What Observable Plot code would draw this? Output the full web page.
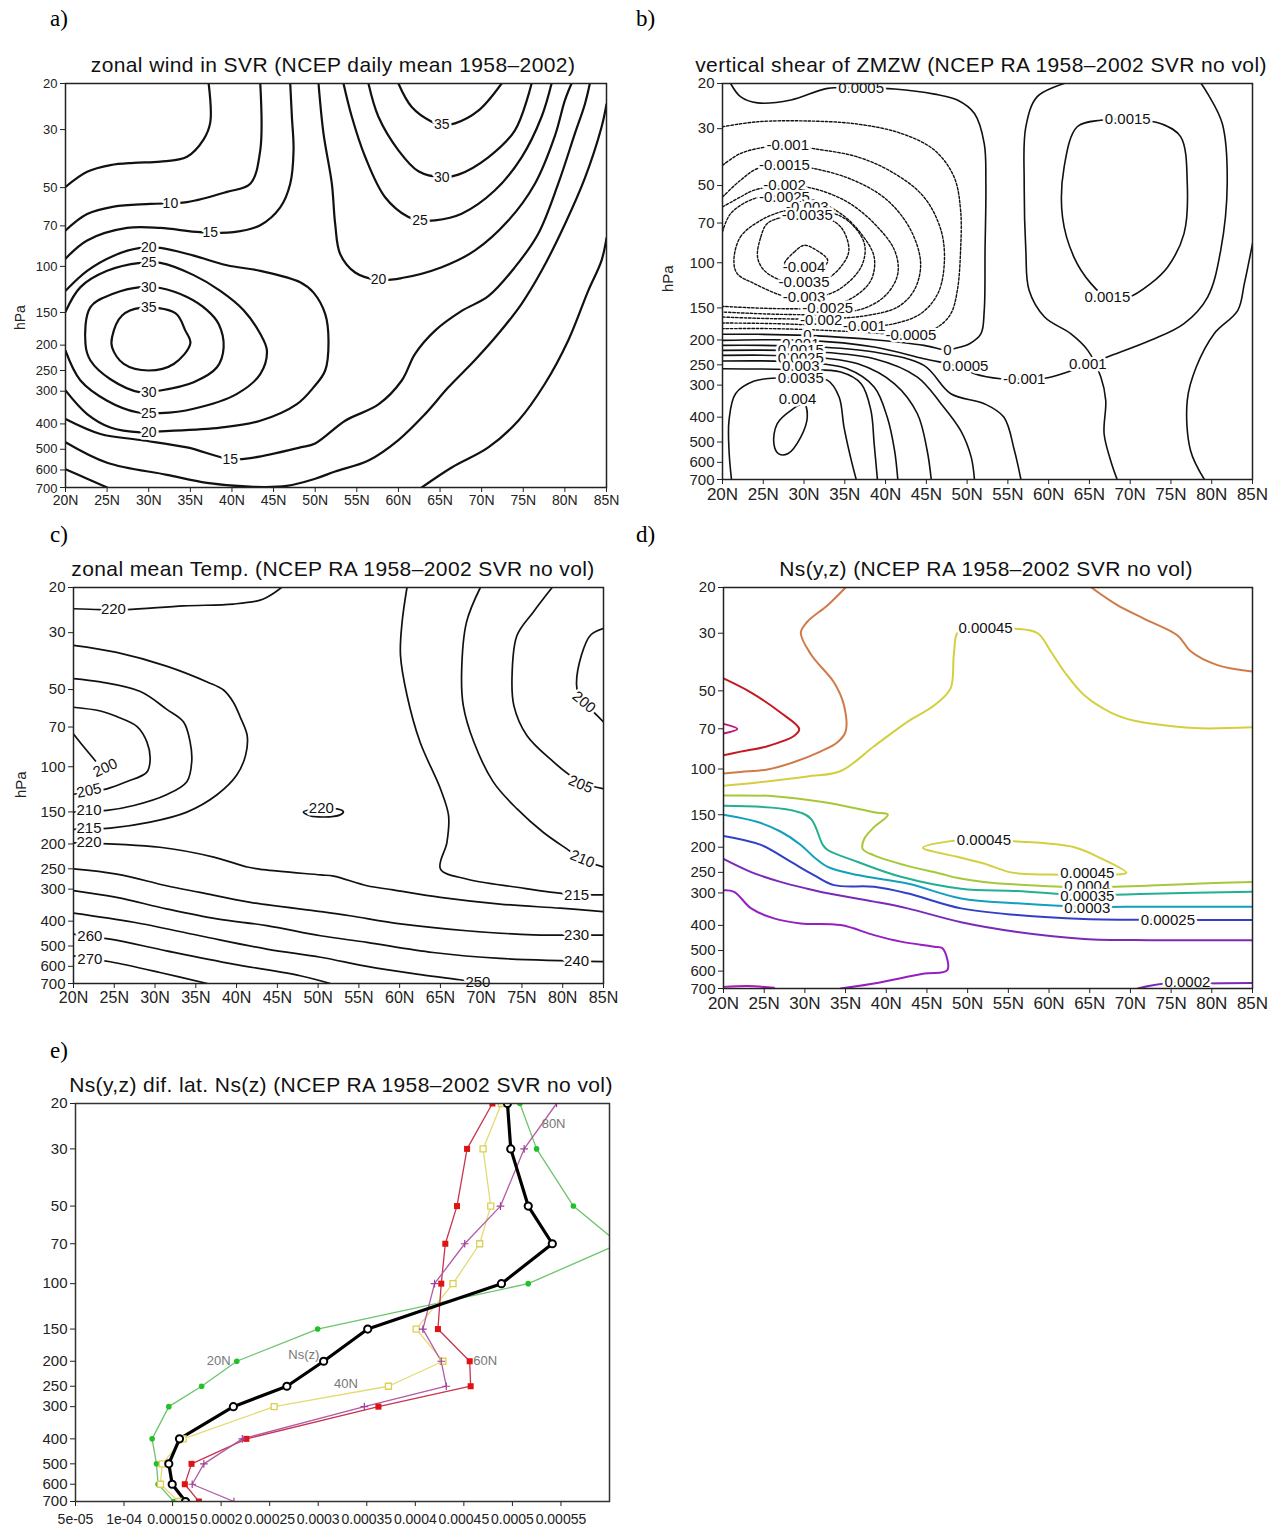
<!DOCTYPE html>
<html><head><meta charset="utf-8">
<script src="https://cdn.jsdelivr.net/npm/d3@7"></script>
<script src="https://cdn.jsdelivr.net/npm/@observablehq/plot@0.6"></script>
<style>
body{margin:0;background:#fff;}
#root{position:relative;width:1278px;height:1527px;background:#fff;font-family:"Liberation Sans",Arial,sans-serif;overflow:hidden;}
.tag{font-family:"Liberation Serif","Times New Roman",serif;font-size:23px;color:#000;}
.title{font-size:21px;color:#111;white-space:nowrap;transform:translateX(-50%);letter-spacing:0.4px;}
.hpa{color:#222;transform:rotate(-90deg);transform-origin:left top;}
</style></head><body><div id="root"></div>
<script>
// ---------- shared ticks ----------
const latTicks = [20,25,30,35,40,45,50,55,60,65,70,75,80,85];
const pTicks = [20,30,50,70,100,150,200,250,300,400,500,600,700];

// ---------- panel a: zonal wind (lat, hPa) ----------
const a_5_top = [[20,49.7],[22.6,43.5],[25.4,41],[28.2,40.2],[31.4,39.8],[34.6,38.1],[36.6,32.7],[37.4,28.1],[37.2,20]];
const a_10_top = [[20,72.9],[22.6,63.1],[25.8,59.1],[30.2,57.7],[34.6,56.8],[39.4,51.9],[42.2,48.3],[43.4,36],[43.4,20]];
const a_15_top = [[20,93.5],[22.6,79.6],[27.4,71.3],[31.4,71.3],[36.2,74],[40.2,74],[43.4,69.6],[45.8,59.5],[47,48.3],[47.4,36],[47.2,26.8],[47,20]];
const a_20_jet = [[20,124],[22.6,104],[25.8,91],[29,85],[31.4,85],[35.4,91],[39.4,99],[43.4,104],[48.2,115],[49.8,126],[51.2,152],[51.6,192],[51.2,250],[49.8,290],[47.8,336],[43.4,389],[38.6,413],[31.4,427],[29,431],[25.4,413],[22.6,367],[20,298]];
const a_25_jet = [[20,149],[21.8,120],[25,104],[29,97],[31.4,97],[35.4,108],[38.6,124],[41.4,147],[43.4,181],[44.2,210],[43.4,258],[40.6,307],[35.4,350],[31.4,364],[28.6,361],[25,326],[21.8,273],[20,210]];
const a_30_jet = [[22.4,198],[23,143],[25.8,127],[29,120],[31.4,121],[34.6,131],[37,147],[38.4,166],[39,204],[38.2,243],[35.4,277],[31.4,298],[29,303],[25.4,270],[23,229]];
const a_35_jet = [[25.6,186],[26.8,154],[29,144],[33.2,151],[34.4,176],[35,197],[33,236],[30,250],[27,236],[25.6,204]];
const a_15_low = [[20,383],[24.2,437],[29,461],[34.6,492],[39.8,545],[42.6,538],[48.2,492],[50,475],[53.6,389],[57.6,337],[60.4,273],[62,216],[64.4,176],[67.6,148],[70.8,130],[74,100.7],[76.8,75],[79.2,48.3],[81.2,31.1],[82.4,24],[83,20]];
const a_10_low = [[20,470],[25,563],[32.2,626],[37,672],[42.6,696],[46.6,690],[50,648],[52.4,608],[56.4,552],[60,461],[63.2,367],[66,290],[69.2,228],[72,181],[74.8,139],[77.2,104],[80,69],[82.4,46],[84.4,29.4],[85,24]];
const a_5_low1 = [[20,596],[22.6,648],[25,700]];
const a_5_low2 = [[62.8,700],[66.4,587],[70.8,492],[74.4,389],[77.6,281],[80.4,192],[82.8,124],[84.4,95],[85,78]];
const a_20_polar = [[50.4,20],[51,31.1],[52,48.3],[52.4,68.8],[53,89.7],[54.8,105.5],[57.6,112.6],[60.4,110.8],[65.2,100.7],[69.2,86.9],[73.2,66.8],[76.4,48.3],[78.8,31.7],[80,23.2],[80.8,20]];
const a_25_polar = [[53.4,20],[54.4,26.8],[56,38.1],[58.4,54.4],[61.2,64.8],[62.6,66.7],[64.4,66.7],[67.6,62.9],[71.6,51.2],[74.8,38.3],[77.2,26.8],[78.4,20]];
const a_30_polar = [[56.4,20],[57.6,26.8],[60,36],[62.4,43.3],[65.2,45.6],[67.2,44.6],[70.8,38.3],[74,30.2],[76,20]];
const a_35_polar = [[60,20],[61.6,24.6],[64,28],[65.2,28.8],[66.8,28.4],[69.6,25.4],[72.4,20]];
const a_labels = [["10",32.6,57.5],["15",37.4,74],["20",30,85],["25",30,97],["30",30,120],["35",30,144],["30",30,303],["25",30,364],["20",30,431],["15",39.8,545],["35",65.2,28.8],["30",65.2,45.6],["25",62.6,66.7],["20",57.6,112.6]];

// ---------- panel b: vertical shear (lat, hPa) ----------
const b_S1 = [[21.0,20],[22.2,22.5],[24.3,23.8],[28.4,23.2],[32.9,20.9],[37.0,20.8],[41.1,21.0],[46.0,22.0],[48.8,23.2],[50.9,26.2],[52.1,34.3],[52.3,49.1],[52.2,89.4],[52.1,153.3],[51.7,189.0],[50.3,206.8],[48.4,216.3],[47.6,219.6],[44.7,209.9],[38.6,199.5],[32.9,193.6],[30.4,191.9],[24.3,190.1],[20,190.1]];
const b_N1 = [[20,29.5],[24.3,28.2],[30.4,28.0],[36.6,28.8],[41.9,31.3],[46.0,36.4],[48.4,46.3],[49.2,62.4],[49.2,89.4],[48.8,128.1],[48.0,158.0],[46.4,178.0],[44.3,187.8],[43.1,191.9],[38.6,187.8],[32.5,183.4],[26.3,180.7],[20,180.7]];
const b_N2 = [[20,41.7],[22.2,37.5],[25.5,35.3],[28.0,34.8],[31.2,35.9],[36.6,38.7],[41.1,44.9],[44.7,55.4],[46.8,74.7],[47.2,100.8],[46.4,132.0],[44.3,158.0],[41.1,172.7],[37.8,176.9],[32.5,175.4],[26.3,172.7],[20,171.7]];
const b_N3 = [[20,55.4],[22.2,47.7],[24.3,42.9],[27.6,41.7],[31.2,42.9],[36.1,47.7],[40.2,57.0],[43.1,74.7],[44.3,100.8],[43.5,128.1],[41.5,148.7],[37.8,160.4],[32.9,165.2],[26.3,165.2],[20,162.8]];
const b_N4 = [[20,60.6],[22.2,55.4],[23.9,52.1],[27.6,49.9],[31.2,51.4],[35.3,57.9],[38.6,70.3],[41.1,89.4],[41.5,110.2],[40.2,132.0],[37.8,148.7],[33.7,158.0],[27.2,158.9],[20,155.6]];
const b_N5 = [[20,75.8],[21.0,64.3],[23.9,56.2],[27.6,55.0],[31.2,57.0],[34.5,64.3],[37.0,77.0],[38.6,95.0],[38.2,117.1],[36.1,136.0],[32.9,148.7],[27.2,151.0],[20,147.9]];
const b_N6 = [[21.4,97.8],[22.2,79.3],[24.7,68.3],[28.0,62.4],[32.1,62.4],[35.3,68.3],[37.4,84.2],[37.0,103.8],[34.1,128.1],[31.2,136.0],[28.0,136.0],[23.9,120.6],[21.8,110.2]];
const b_N7 = [[24.3,95.0],[24.7,79.3],[25.5,70.3],[28.0,65.9],[32.1,65.9],[34.5,72.5],[35.5,89.4],[34.5,103.8],[32.5,117.1],[30.0,120.6],[27.2,117.1],[25.1,107.0]];
const b_N8 = [[27.6,100.8],[28.8,90.8],[30.0,85.5],[31.2,88.1],[32.9,97.8],[32.3,103.8],[30.0,105.4],[28.0,103.8]];
const b_P1 = [[20,200.7],[30.4,200.7],[38.6,213.1],[44.7,236.6],[49.2,255.1],[50.9,270.9],[54.1,283.3],[57.0,283.3],[59.9,280.7],[63.5,258.9],[67.2,233.1],[72.5,200.7],[76.6,172.7],[79.5,136.0],[81.1,89.4],[81.9,49.1],[81.3,28.7],[79.5,21.9],[78.7,20]];
const b_P2 = [[20,209.9],[30.4,211.8],[38.6,222.9],[44.7,251.3],[48.0,324.0],[52.1,354.4],[54.5,399.7],[55.8,539.4],[56.6,700]];
const b_P3 = [[20,219.6],[29.6,220.9],[38.6,236.6],[43.9,279.0],[46.8,354.4],[49.2,450.6],[50.5,572.5],[50.9,700]];
const b_P4 = [[20,229.7],[29.6,231.7],[36.6,247.6],[41.1,296.4],[43.9,387.9],[45.1,539.4],[45.6,700]];
const b_P5 = [[20,241.7],[29.6,243.9],[35.3,258.9],[38.6,305.2],[40.2,399.7],[41.1,539.4],[41.5,700]];
const b_P6 = [[20,258.9],[29.6,261.3],[34.5,266.8],[37.0,296.4],[38.2,376.4],[38.6,508.1],[39.0,700]];
const b_P7 = [[21.1,700],[20.8,539.4],[20.8,411.8],[21.6,324.0],[23.9,289.3],[27.2,280.7],[29.6,280.7],[32.9,287.6],[34.3,333.8],[34.9,437.3],[35.7,572.5],[36.4,700]];
const b_P8 = [[26.3,508.1],[26.7,424.4],[28.4,376.4],[30.0,354.4],[30.4,399.7],[29.6,478.4],[28.0,555.9],[26.9,555.9]];
const b_R1 = [[85,84.2],[84.0,120.6],[83.2,153.3],[80.3,189.0],[78.1,255.1],[77.0,343.9],[77.4,539.4],[79.1,700]];
const b_R2 = [[61.9,20],[58.6,22.5],[57.2,29.5],[57.0,49.1],[57.2,89.4],[57.6,128.1],[59.5,162.8],[62.7,189.0],[64.8,219.6],[66.4,279.0],[67.0,343.9],[66.8,464.4],[67.6,589.9],[68.4,700]];
const b_R3 = [[63.5,29.5],[66.4,27.8],[69.7,27.6],[73.8,28.7],[76.2,32.3],[77.0,49.1],[76.6,77.0],[74.6,103.8],[72.5,120.6],[69.7,136.8],[67.2,136.8],[65.2,120.6],[63.1,95.0],[61.7,66.3],[61.9,42.3]];
const b_labels = [["0.0005",37.0,20.9],["-0.001",28.0,34.8],["-0.0015",27.6,41.7],["-0.002",27.6,49.9],["-0.0025",27.6,55.4],["-0.003",30.4,60.6],["-0.0035",30.4,65.4],["-0.004",30.0,103.8],["-0.0035",30.0,118.8],["-0.003",30.0,136.0],["-0.0025",32.9,151.0],["-0.002",32.1,166.9],["-0.001",37.4,176.9],["-0.0005",43.1,191.9],["0",30.4,191.9],["0",47.6,219.6],["0.0005",49.8,253.8],["0.001",29.6,206.8],["0.0015",29.6,219.6],["0.0025",29.6,236.6],["0.003",29.6,253.8],["0.0035",29.6,280.7],["0.004",29.2,339],["0.0015",69.7,27.6],["0.0015",67.2,136.8],["-0.001",57.0,283.3],["0.001",64.8,247.6]];

// ---------- panel c: temperature (lat, hPa) ----------
const c_220_top = [[20,24.2],[23.3,24.4],[26.5,24.4],[33.5,23.6],[39.6,23.2],[42.9,22.4],[44.5,21.1],[45.5,20]];
const c_200 = [[20,74.5],[21.2,83.2],[22.7,94.9]];
const c_205 = [[20,58.6],[23.3,60.6],[25.3,63.7],[27.8,69.7],[29,80],[29.4,93.3],[29,104.9],[26.5,114.4],[24.1,121.9],[20,128]];
const c_210 = [[20,45.3],[23.3,46.7],[28.2,50.9],[31.4,59.6],[33.5,66.9],[34.3,80],[34.5,95.4],[33.9,114.4],[31.4,128.6],[27.4,141.6],[24.1,148],[20,150.3]];
const c_215 = [[20,33.6],[25.3,35.8],[31.4,40.5],[36.4,46.7],[38.4,50.2],[39.6,56],[40.4,63.5],[41.3,75.6],[41.1,90.3],[40,108],[37.6,128.6],[33.9,150.3],[29.4,164.5],[24.5,173.4],[20,175.5]];
const c_220_low = [[20,198],[30.6,206],[37.2,225],[41.3,246],[43.3,252],[50.3,264],[51.9,267],[56,291],[59.2,302],[65,323],[72.3,343],[79.7,356],[85,367]];
const c_230 = [[20,250],[25.3,262],[31.4,291],[35.5,309],[41.7,338],[50.3,367],[53.9,381],[60.1,410],[68.2,436],[76.4,452],[85,453]];
const c_240 = [[20,304],[25.3,323],[31.4,358],[37.6,392],[43.7,416],[50.3,456],[56,484],[64.1,530],[72.3,559],[85,575]];
const c_250 = [[20,372],[27.4,404],[35.5,456],[43.7,514],[50.3,553],[56,600],[62.1,643],[67.4,677],[69.9,700]];
const c_260 = [[20,449],[24.5,470],[31.4,522],[39.6,588],[47.8,653],[51.5,700]];
const c_270 = [[20,546],[24.5,576],[30.6,634],[36.4,700]];
const c_215_polar = [[60.9,20],[60.3,27.3],[60.1,36.7],[60.9,52.6],[62.5,80.1],[65,121.9],[66,155],[65.8,197],[65,250],[68.2,274],[74.4,295],[80.5,313],[85,316]];
const c_210_polar = [[69.9,20],[68.2,27.3],[67.6,42.7],[67.8,57.6],[69.1,80.1],[71.5,114.8],[74.4,146],[77.6,180],[80.5,209],[82.5,230],[85,246]];
const c_205_polar = [[78.7,20],[76.4,24.9],[74.4,30.7],[73.8,42.7],[74,57.6],[75.6,75.5],[78.9,95.9],[80.9,108],[82.5,116],[85,121.9]];
const c_200_polar = [[85,28.9],[83.4,30.7],[82.3,36.7],[81.7,48.1],[82.2,55],[83.8,61.2],[85,66.9]];
const c_220_loop = [[48.2,150],[49.0,155],[50.7,157],[52.7,154],[53.1,150],[52.3,146]];
const c_labels = [["220",24.9,24.4,0],["200",23.9,101,-25],["205",21.9,124,-12],["210",21.9,148,0],["215",21.9,173,0],["220",21.9,196,0],["260",22,458,0],["270",22,562,0],["220",50.4,145,0],["200",82.6,56,40],["205",82.2,117,22],["210",82.4,229,22],["215",81.7,316,0],["230",81.7,453,0],["240",81.7,573,0],["250",69.6,690,0]];

// ---------- panel d: Ns(y,z) (lat, hPa) with colours ----------
const d_0006 = [[20,67.0],[21.7,70.1],[20,73.0]];
const d_00055 = [[20,44.8],[23.4,50.8],[27,60.6],[29.3,70.1],[28.7,74.5],[25.4,81.7],[22.1,85.7],[20,88.5]];
const d_0005a = [[35,20],[32.8,23.4],[30.3,27.1],[29.5,29.9],[30.8,36.4],[33.6,46.5],[34.8,56.8],[35,71.8],[34,78.9],[31.9,85.7],[28.6,94.2],[25.4,100.4],[22.1,102.6],[20,104.1]];
const d_0005b = [[65.2,20],[68.4,23.4],[71.7,26.4],[75.8,30.6],[77.4,35.2],[80.7,39.8],[85,42.1]];
const d_00045a = [[20,115.9],[24.2,112.6],[30.3,106.8],[34.4,101.8],[38.5,81.7],[42.6,65.8],[45.9,56.8],[47.9,48.9],[48.3,36.4],[48.8,29.7],[50.5,28.8],[55.7,28.8],[58.6,30.0],[60.2,35.2],[61.9,42.3],[64.3,51.9],[67.6,60.6],[70.5,65.2],[74.6,68.1],[78.7,69.7],[85,69.1]];
const d_00045b = [[44.5,201],[48.8,188],[52,188],[56.1,190],[63.1,200],[66.4,221],[69.5,251],[67.6,255],[60.2,255],[55.3,250],[52,231],[48.8,218]];
const d_0004 = [[20,126.5],[26.2,127.2],[32.4,134.3],[38.5,146.7],[40.2,150.0],[38.5,167.4],[37.3,185.6],[37.1,203],[38.5,215],[42.6,236],[46.7,253],[48.8,263],[52,272],[58.2,281],[64.3,285],[72.5,281],[78.7,276],[85,272]];
const d_00035 = [[20,138.5],[28.3,144],[30.7,155],[32.2,196],[32.8,205],[36.5,228],[41.8,260],[49.2,289],[56.1,295],[64.3,306],[72.5,302],[85,297]];
const d_0003 = [[20,150],[24.2,160],[27,174],[29.5,196],[31.1,218],[32.8,238],[36.5,256],[42.6,276],[49.2,315],[56.1,329],[64.3,339],[72.5,339],[85,339]];
const d_00025 = [[20,181],[24.6,196],[28.3,228],[31.1,256],[33.6,280],[38.5,284],[42.6,301],[49.2,344],[56.1,365],[64.3,378],[74.6,381],[85,381]];
const d_0002 = [[20,222],[23.4,249.5],[27,272],[30.3,289],[32.8,301],[38.5,324],[42.6,344],[49.2,389],[56.1,424],[64.3,451],[72.5,456],[85,456]];
const d_00015 = [[20,293],[21.3,297],[23.4,344],[26.2,376],[29.5,393],[34.4,399],[38.5,436],[41.8,462],[45.9,483],[46.9,490],[47.5,595],[44.7,613],[38.5,670],[34.4,700]];
const d_0001 = [[20,690],[23,684],[26.2,696]];
const d_0002b = [[70.9,700],[74.2,670],[78.7,670],[85,666]];
const d_colors = {c0006:"#c0147e",c00055:"#c41a22",c0005:"#d07a48",c00045:"#d2d040",c0004:"#a6c838",c00035:"#22b090",c0003:"#139ec0",c00025:"#3040c8",c0002:"#7a2ab8",c00015:"#9420c0",c0001:"#b418b4"};
const d_labels = [["0.00045",52.2,28.7],["0.00045",52.0,188],["0.00045",64.7,252],["0.0004",64.7,283],["0.00035",64.7,308],["0.0003",64.7,344],["0.00025",74.6,381],["0.0002",77,660]];

// ---------- panel e: profiles ----------
const eLevels = [20,30,50,70,100,150,200,250,300,400,500,600,700];
const e_nsz = [4.949e-4,4.983e-4,5.163e-4,5.411e-4,4.887e-4,3.51e-4,3.056e-4,2.677e-4,2.126e-4,1.571e-4,1.461e-4,1.496e-4,1.633e-4];
const e_20N = [5.077e-4,5.249e-4,5.628e-4,6.1e-4,5.163e-4,2.994e-4,2.161e-4,1.799e-4,1.461e-4,1.289e-4,1.334e-4,1.351e-4,1.512e-4];
const e_40N = [4.887e-4,4.698e-4,4.777e-4,4.663e-4,4.388e-4,4.009e-4,4.285e-4,3.723e-4,2.546e-4,1.609e-4,1.393e-4,1.375e-4,1.564e-4];
const e_60N = [4.794e-4,4.533e-4,4.429e-4,4.309e-4,4.267e-4,4.233e-4,4.56e-4,4.57e-4,3.62e-4,2.26e-4,1.695e-4,1.626e-4,1.771e-4];
const e_80N = [5.455e-4,5.121e-4,4.877e-4,4.509e-4,4.198e-4,4.078e-4,4.267e-4,4.319e-4,3.475e-4,2.218e-4,1.822e-4,1.702e-4,2.132e-4];
const eXTicks = [5e-5,1e-4,1.5e-4,2e-4,2.5e-4,3e-4,3.5e-4,4e-4,4.5e-4,5e-4,5.5e-4];
const eXLabels = ["5e-05","1e-04","0.00015","0.0002","0.00025","0.0003","0.00035","0.0004","0.00045","0.0005","0.00055"];
const e_labels = [["20N",1.974e-4,200],["Ns(z)",2.852e-4,188],["40N",3.286e-4,244],["60N",4.72e-4,200],["80N",5.424e-4,23.9]];

// ---------- layout helpers ----------
const root = document.getElementById("root");
const FONT = '"Liberation Sans", Arial, Helvetica, sans-serif';
function put(node, left, top){ node.style.position="absolute"; node.style.left=left+"px"; node.style.top=top+"px"; root.appendChild(node); return node; }
function div(text, cls, left, top, extra){ const d=document.createElement("div"); d.className=cls; d.textContent=text; if(extra) Object.assign(d.style, extra); return put(d,left,top); }
function rows(list){ return list.flatMap((pts,i)=>pts.map(([lat,p])=>({lat,p,id:i}))); }
function crow(list){ return list.flatMap(([pts,color],i)=>pts.map(([lat,p])=>({lat,p,id:i,color}))); }
function lines(list, opts, closed){ return Plot.line(rows(list), Object.assign({x:"lat",y:"p",z:"id",curve: closed ? "catmull-rom-closed" : "catmull-rom",clip:true,fill:"none"}, opts)); }
function labels(list, fs){ return Plot.text(list,{x:d=>d[1],y:d=>d[2],text:d=>d[0],rotate:d=>d[3]||0,fontSize:fs,fill:"#111",stroke:"white",strokeWidth:5,paintOrder:"stroke",fontFamily:FONT}); }
function yAxis(fs, lastDy){
  const main = pTicks.slice(0, pTicks.length - 1);
  const last = pTicks.slice(pTicks.length - 1);
  const common = {frameAnchor:"left",textAnchor:"end",dx:-8,fontSize:fs,fill:"#222",fontFamily:FONT};
  return [
    Plot.axisY({ticks:pTicks,tickFormat:()=>"",tickSize:5,label:null}),
    Plot.text(main, Object.assign({y:d=>d,text:d=>String(d)}, common)),
    Plot.text(last, Object.assign({y:d=>d,text:d=>String(d),dy:lastDy||0}, common))
  ];
}

function latPanel(o){
  const marks = [
    Plot.axisX({ticks:latTicks,tickFormat:d=>d+"N",tickSize:5,tickPadding:3,fontSize:o.xFont,label:null}),
    ...yAxis(o.yFont, o.lastDy),
    ...o.marks,
    Plot.frame({stroke:"#222",strokeWidth:1.5})
  ];
  const svg = Plot.plot({width:o.width,height:o.height,marginLeft:o.ml,marginRight:o.mr,marginTop:o.mt,marginBottom:o.mb,
    x:{domain:[20,85]}, y:{type:"log",domain:[20,700],reverse:true}, color:{type:"identity"},
    style:{fontFamily:FONT,color:"#222",background:"transparent",overflow:"visible"}, marks});
  put(svg, o.left, o.top);
}

// panel letters & titles
div("a)","tag",50,6); div("b)","tag",636,6); div("c)","tag",50,522); div("d)","tag",636,522); div("e)","tag",50,1038);
div("zonal wind in SVR (NCEP daily mean 1958\u20132002)","title",333,53);
div("vertical shear of ZMZW (NCEP RA 1958\u20132002 SVR no vol)","title",981,53);
div("zonal mean Temp. (NCEP RA 1958\u20132002 SVR no vol)","title",333,557);
div("Ns(y,z) (NCEP RA 1958\u20132002 SVR no vol)","title",986,557);
div("Ns(y,z) dif. lat. Ns(z) (NCEP RA 1958\u20132002 SVR no vol)","title",341,1073);
div("hPa","hpa",12,330,{fontSize:"14px"});
div("hPa","hpa",659,292,{fontSize:"15px"});
div("hPa","hpa",12,798,{fontSize:"15px"});

// ---------- panel a ----------
latPanel({left:0,top:50,width:625,height:470,ml:65,mr:19,mt:33,mb:33,xFont:14,yFont:13,lastDy:1,marks:[
  lines([a_5_top,a_10_top,a_15_top,a_20_jet,a_25_jet,a_15_low,a_10_low,a_5_low1,a_5_low2,a_20_polar,a_25_polar,a_30_polar,a_35_polar],{stroke:"#111",strokeWidth:2.2}),
  lines([a_30_jet,a_35_jet],{stroke:"#111",strokeWidth:2.2},true),
  labels(a_labels,14)
]});

// ---------- panel b ----------
latPanel({left:640,top:50,width:632,height:470,ml:82,mr:20,mt:33,mb:41,xFont:17,yFont:15,lastDy:1,marks:[
  lines([b_N1,b_N2,b_N3,b_N4,b_N5],{stroke:"#111",strokeWidth:1.4,strokeDasharray:"2.5,1.8"}),
  lines([b_N6,b_N7,b_N8],{stroke:"#111",strokeWidth:1.4,strokeDasharray:"2.5,1.8"},true),
  lines([b_S1,b_P1,b_P2,b_P3,b_P4,b_P5,b_P6,b_P7,b_R1,b_R2],{stroke:"#111",strokeWidth:1.6}),
  lines([b_P8,b_R3],{stroke:"#111",strokeWidth:1.6},true),
  labels(b_labels,15)
]});

// ---------- panel c ----------
latPanel({left:0,top:555,width:625,height:475,ml:73,mr:22,mt:32,mb:47,xFont:16,yFont:15,lastDy:1,marks:[
  lines([c_220_top,c_200,c_205,c_210,c_215,c_220_low,c_230,c_240,c_250,c_260,c_270,c_215_polar,c_210_polar,c_205_polar,c_200_polar],{stroke:"#111",strokeWidth:1.7}),
  lines([c_220_loop],{stroke:"#111",strokeWidth:1.7},true),
  labels(c_labels,15)
]});

// ---------- panel d ----------
const dOpen = [[d_0006,d_colors.c0006],[d_00055,d_colors.c00055],[d_0005a,d_colors.c0005],[d_0005b,d_colors.c0005],[d_00045a,d_colors.c00045],[d_0004,d_colors.c0004],[d_00035,d_colors.c00035],[d_0003,d_colors.c0003],[d_00025,d_colors.c00025],[d_0002,d_colors.c0002],[d_00015,d_colors.c00015],[d_0001,d_colors.c0001],[d_0002b,d_colors.c0002]];
const dClosed = [[d_00045b,d_colors.c00045]];
latPanel({left:640,top:555,width:632,height:475,ml:83,mr:20,mt:32,mb:42,xFont:17,yFont:15,lastDy:1,marks:[
  Plot.line(crow(dOpen),{x:"lat",y:"p",z:"id",stroke:"color",strokeWidth:2,curve:"catmull-rom",clip:true}),
  Plot.line(crow(dClosed),{x:"lat",y:"p",z:"id",stroke:"color",strokeWidth:2,curve:"catmull-rom-closed",clip:true}),
  labels(d_labels,15)
]});

// ---------- panel e ----------
function prof(vals){ return eLevels.map((p,i)=>({p,v:vals[i]})); }
const eSvg = Plot.plot({width:630,height:457,marginLeft:75,marginRight:21,marginTop:33,marginBottom:26,
  x:{domain:[5e-5,6e-4]}, y:{type:"log",domain:[20,700],reverse:true},
  style:{fontFamily:FONT,color:"#222",background:"transparent",overflow:"visible"},
  marks:[
    Plot.axisX({ticks:eXTicks,tickFormat:d=>eXLabels[eXTicks.findIndex(t=>Math.abs(t-d)<1e-9)],tickSize:5,tickPadding:8,fontSize:14,letterSpacing:"-0.3px",label:null}),
    ...yAxis(15,0),
    Plot.line(prof(e_20N),{x:"v",y:"p",stroke:"#6cc46c",strokeWidth:1.3,clip:true}),
    Plot.line(prof(e_40N),{x:"v",y:"p",stroke:"#e4da74",strokeWidth:1.3,clip:true}),
    Plot.line(prof(e_60N),{x:"v",y:"p",stroke:"#c8344e",strokeWidth:1.3,clip:true}),
    Plot.line(prof(e_80N),{x:"v",y:"p",stroke:"#b25aa4",strokeWidth:1.3,clip:true}),
    Plot.line(prof(e_nsz),{x:"v",y:"p",stroke:"#000",strokeWidth:3.2,clip:true}),
    Plot.dot(prof(e_20N),{x:"v",y:"p",r:2.8,fill:"#22c02a",clip:true}),
    Plot.dot(prof(e_40N),{x:"v",y:"p",r:3.4,symbol:"square",stroke:"#dccf52",strokeWidth:1.3,fill:"white",clip:true}),
    Plot.dot(prof(e_60N),{x:"v",y:"p",r:3.4,symbol:"square",fill:"#e01212",clip:true}),
    Plot.dot(prof(e_80N),{x:"v",y:"p",r:2.6,symbol:"plus",stroke:"#a03c9c",strokeWidth:1.2,clip:true}),
    Plot.dot(prof(e_nsz),{x:"v",y:"p",r:3.6,stroke:"#000",strokeWidth:2,fill:"white",clip:true}),
    Plot.text(e_labels,{x:d=>d[1],y:d=>d[2],text:d=>d[0],fontSize:13,fill:"#777",fontFamily:FONT}),
    Plot.frame({stroke:"#333",strokeWidth:1.5})
  ]});
put(eSvg,0,1070);
</script></body></html>
